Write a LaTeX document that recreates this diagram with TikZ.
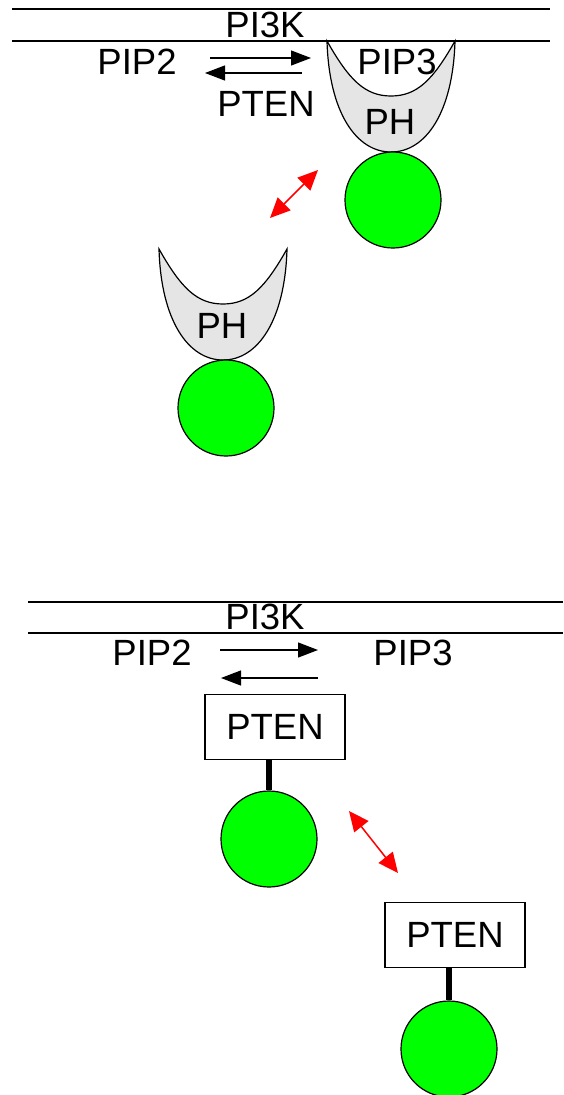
\documentclass[tikz,border=0pt]{standalone}
\usepackage{fontspec}
\setmainfont{Liberation Sans}
\usetikzlibrary{arrows.meta}

% PH domain cup, #1 = bottom point of the cup
\newcommand{\PHcup}[1]{%
  \filldraw[cup, shift={#1}] (-64,-111) .. controls (-62,-40) and (-35,0) .. (0,0)
    .. controls (35,0) and (62,-40) .. (64,-111)
    .. controls (42,-72) and (26,-56) .. (0,-56)
    .. controls (-26,-56) and (-42,-72) .. (-64,-111) -- cycle;}

\tikzset{
  txt/.style={font=\fontsize{36.5}{42}\selectfont, inner sep=0pt},
  membrane/.style={line width=1.1pt},
  cup/.style={fill=black!10, draw=black, line width=1.2pt},
  ball/.style={circle, draw, fill=green, line width=1.2pt, minimum size=96pt, inner sep=0pt},
  ptenbox/.style={txt, draw, line width=1.2pt, minimum width=140pt, minimum height=65pt},
  react/.style={-{Triangle[length=20pt,width=15pt]}, line width=1.2pt},
  swap/.style={red, line width=1.5pt, {Triangle[length=20pt,width=18pt]}-{Triangle[length=20pt,width=18pt]}},
  stem/.style={line width=6.5pt}
}

\begin{document}
\begin{tikzpicture}[x=1pt, y=-1pt]
  \useasboundingbox (0,0) rectangle (563,1095);

  % ---- top panel: PH domain ----
  % membrane
  \draw[membrane] (12,9) -- (550,9);
  \draw[membrane] (12,41) -- (550,41);
  \node[txt] (pikA) at (265,25) {PI3K};

  % bound PH domain
  \PHcup{(391,152)}
  \node[ball] (ballA) at (393,200) {};
  \node[txt] (phA) at (390,122) {PH};

  \node[txt] (pip2A) at (137,62) {PIP2};
  \node[txt] (pip3A) at (397,62) {PIP3};
  \node[txt] (ptenA) at (266,104) {PTEN};

  \coordinate (fwdAs) at (210,58);  \coordinate (fwdAe) at (311,58);
  \coordinate (bwdAs) at (302,73);  \coordinate (bwdAe) at (205,73);
  \draw[react] (fwdAs) -- (fwdAe);
  \draw[react] (bwdAs) -- (bwdAe);

  % free PH domain
  \PHcup{(223,360)}
  \node[ball] (ballB) at (226,408) {};
  \node[txt] (phB) at (222,326) {PH};

  \coordinate (swapAs) at (270,218); \coordinate (swapAe) at (318,170);
  \draw[swap] (swapAs) -- (swapAe);

  % ---- bottom panel: PTEN ----
  \draw[membrane] (28,602) -- (563,602);
  \draw[membrane] (28,633) -- (563,633);
  \node[txt] (pikB) at (265,617) {PI3K};

  \node[txt] (pip2B) at (152,653) {PIP2};
  \node[txt] (pip3B) at (413,653) {PIP3};

  \coordinate (fwdBs) at (220,650); \coordinate (fwdBe) at (318,650);
  \coordinate (bwdBs) at (318,678); \coordinate (bwdBe) at (221,678);
  \draw[react] (fwdBs) -- (fwdBe);
  \draw[react] (bwdBs) -- (bwdBe);

  % bound PTEN
  \node[ptenbox] (ptenB) at (275,727) {PTEN};
  \node[ball] (ballC) at (269,839) {};
  \draw[stem] (ptenB.south -| ballC) -- (ballC.north);

  % free PTEN
  \node[ptenbox] (ptenC) at (455,935) {PTEN};
  \node[ball] (ballD) at (449,1049) {};
  \draw[stem] (ptenC.south -| ballD) -- (ballD.north);

  \coordinate (swapBs) at (349,811); \coordinate (swapBe) at (398,873);
  \draw[swap] (swapBs) -- (swapBe);
\end{tikzpicture}
\end{document}
